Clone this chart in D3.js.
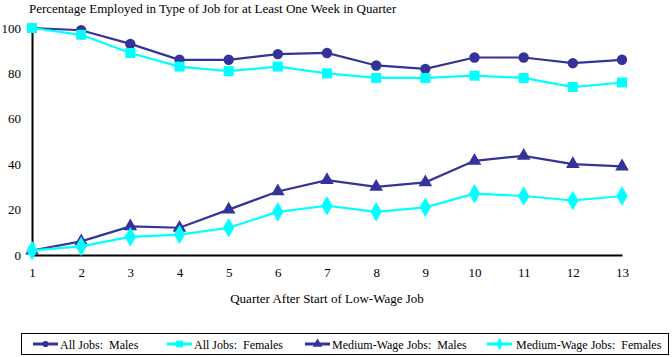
<!DOCTYPE html>
<html><head><meta charset="utf-8">
<script src="https://cdn.jsdelivr.net/npm/d3@7/dist/d3.min.js"></script>
<style>body{margin:0;background:#fff}svg{display:block}text{font-family:"Liberation Serif","Times New Roman",serif;font-size:13px;fill:#000}</style>
</head><body><svg id="c" width="672" height="357"></svg>
<script>
const quarters = [1,2,3,4,5,6,7,8,9,10,11,12,13];
const allMales = [100,99,93,86,86,88.5,89,83.5,82,87,87,84.5,86];
const allFemales = [100,97,89,83,81,83,80,78,78,79,78,74,76];
const medMales = [2,6,12.6,12,20,28,33,30,32,41.5,43.7,40,39];
const medFemales = [2,3.8,8,9,12,19,21.7,19,21,27,26,24,26];
const yTicks = [0,20,40,60,80,100];
const seriesNames = ["All Jobs:  Males","All Jobs:  Females","Medium-Wage Jobs:  Males","Medium-Wage Jobs:  Females"];
const seriesColors = ["#333399","#00FFFF","#333399","#00FFFF"];
const seriesShapes = ["circle","square","triangle","diamond"];
const seriesData = [allMales, allFemales, medMales, medFemales];

const svg = d3.select("#c");
const x = d3.scaleLinear().domain([1,13]).range([32,622]);
const y = d3.scaleLinear().domain([0,100]).range([255,28]);
const SERIF = '"Liberation Serif","Times New Roman",serif';

svg.append("text").attr("x",29).attr("y",13).text("Percentage Employed in Type of Job for at Least One Week in Quarter");

const yAx = svg.append("g").attr("transform","translate(32,0)").call(d3.axisLeft(y).tickValues(yTicks).tickSize(0).tickPadding(11));
const xAx = svg.append("g").attr("transform","translate(0,255)").call(d3.axisBottom(x).tickValues(quarters).tickFormat(d3.format("d")).tickSize(0).tickPadding(13));
[yAx,xAx].forEach(g=>{
  g.attr("font-family",SERIF).attr("font-size",13);
  g.select(".domain").attr("stroke","#000").attr("stroke-width",2);
  g.selectAll("text").attr("font-family",SERIF).style("font-family",SERIF).style("font-size","13px").attr("fill","#000");
});

svg.append("text").attr("x",327).attr("y",303).attr("text-anchor","middle").text("Quarter After Start of Low-Wage Job");

function shapePath(shape, s){
  const sym = {circle:d3.symbolCircle, square:d3.symbolSquare, triangle:d3.symbolTriangle, diamond:d3.symbolDiamond}[shape];
  return d3.symbol().type(sym).size(s)();
}
const sizes = {circle:85, square:100, triangle:80, diamond:110};
const line = d3.line().x((d,i)=>x(quarters[i])).y(d=>y(d));
seriesData.forEach((data,k)=>{
  const g = svg.append("g");
  g.append("path").attr("d",line(data)).attr("fill","none").attr("stroke",seriesColors[k]).attr("stroke-width",2.2);
  g.selectAll("path.m").data(data).enter().append("path").attr("class","m")
    .attr("transform",(d,i)=>`translate(${x(quarters[i])},${y(d)})`)
    .attr("d",shapePath(seriesShapes[k], sizes[seriesShapes[k]]))
    .attr("fill",seriesColors[k]);
});

// legend
const lg = svg.append("g");
lg.append("rect").attr("x",21.5).attr("y",333.5).attr("width",647).attr("height",21).attr("fill","#fff").attr("stroke","#000").attr("stroke-width",1);
const lx = [33,167,305,487];
const legSizes = {circle:30, square:45, triangle:40, diamond:40};
seriesNames.forEach((n,k)=>{
  lg.append("line").attr("x1",lx[k]).attr("x2",lx[k]+25).attr("y1",344).attr("y2",344).attr("stroke",seriesColors[k]).attr("stroke-width",3);
  lg.append("path").attr("transform",`translate(${lx[k]+12.5},344)`).attr("d",shapePath(seriesShapes[k],legSizes[seriesShapes[k]])).attr("fill",seriesColors[k]);
  lg.append("text").attr("x",lx[k]+(k===3?29:27)).attr("y",348.5).attr("xml:space","preserve").style("white-space","pre")
    .style("font-size","12px").text(n);
});
</script></body></html>
